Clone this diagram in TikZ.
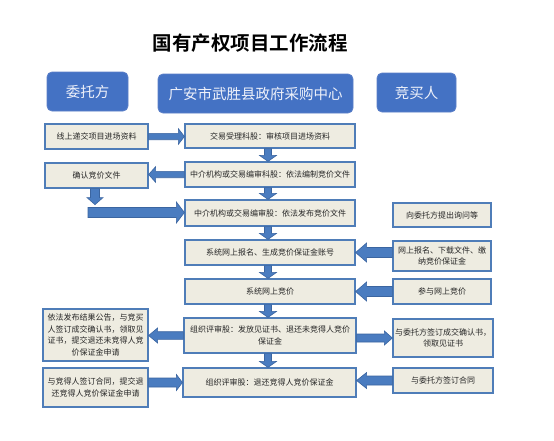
\documentclass[tikz,border=0pt]{standalone}
\usepackage{fontspec}
\usetikzlibrary{calc}
\newfontfamily\cjk{Noto Sans CJK SC}[BoldFont={Noto Sans CJK SC Bold}]
\definecolor{hdrfill}{HTML}{4472C4}
\definecolor{hdrdraw}{HTML}{5B7FC8}
\definecolor{hdrtext}{HTML}{EEF1FA}
\definecolor{boxfill}{HTML}{EEECE1}
\definecolor{boxdraw}{HTML}{4F7DB8}
\definecolor{arrfill}{HTML}{4A7CC0}
\definecolor{arrdraw}{HTML}{3B65A0}
\tikzset{
  hdr/.style={draw=hdrdraw, fill=hdrfill, rounded corners=5pt, line width=0.8pt,
    text=hdrtext, font=\cjk\fontsize{14.5}{16}\selectfont, inner sep=0pt, anchor=center},
  fbox/.style={draw=boxdraw, fill=boxfill, line width=1.2pt, text=black!85,
    font=\cjk\fontsize{8}{11.5}\selectfont, align=center, inner sep=0pt, anchor=center},
  barrow/.style={fill=arrfill, draw=arrdraw, line width=0.6pt, line join=miter}
}
% horizontal block arrow: start, end (same y), shaft half, head half, signed head length
\newcommand\harr[5]{\filldraw[barrow] ($(#1)+(0,{#3})$) -- ($(#2)+({-(#5)},{#3})$) -- ($(#2)+({-(#5)},{#4})$) -- (#2) -- ($(#2)+({-(#5)},{-(#4)})$) -- ($(#2)+({-(#5)},{-(#3)})$) -- ($(#1)+(0,{-(#3)})$) -- cycle;}
% vertical block arrow (downwards in picture)
\newcommand\varr[5]{\filldraw[barrow] ($(#1)+({#3},0)$) -- ($(#2)+({#3},{-(#5)})$) -- ($(#2)+({#4},{-(#5)})$) -- (#2) -- ($(#2)+({-(#4)},{-(#5)})$) -- ($(#2)+({-(#3)},{-(#5)})$) -- ($(#1)+({-(#3)},0)$) -- cycle;}
\begin{document}
\begin{tikzpicture}[x=1pt,y=-1pt]
\useasboundingbox[fill=white] (0,0) rectangle (554,440);
% title
\node[font=\cjk\bfseries\fontsize{19.5}{22}\selectfont, inner sep=0pt] (title) at (250,43) {国有产权项目工作流程};
% headers
\node[hdr, minimum width=81pt, minimum height=39pt] (h1) at (87.5,91.5) {委托方};
\node[hdr, minimum width=195pt, minimum height=39pt] (h2) at (255.5,93.5) {广安市武胜县政府采购中心};
\node[hdr, minimum width=79pt, minimum height=39pt] (h3) at (416.5,92.5) {竞买人};
% left column
\node[fbox, minimum width=103pt, minimum height=25pt] (l1) at (96.5,136.5) {线上递交项目进场资料};
\node[fbox, minimum width=103pt, minimum height=25pt] (l2) at (96.5,175.5) {确认竞价文件};
\node[fbox, minimum width=105pt, minimum height=52pt] (l3) at (95.5,335) {依法发布结果公告，与竞买\\人签订成交确认书，领取见\\证书，提交退还未竞得人竞\\价保证金申请};
\node[fbox, minimum width=105pt, minimum height=39pt] (l4) at (95.5,387.5) {与竞得人签订合同，提交退\\还竞得人竞价保证金申请};
% center column
\node[fbox, minimum width=170pt, minimum height=24pt] (c1) at (270,136) {交易受理科股：审核项目进场资料};
\node[fbox, minimum width=170pt, minimum height=25pt] (c2) at (270,174.5) {中介机构或交易编审科股：依法编制竞价文件};
\node[fbox, minimum width=170pt, minimum height=26pt] (c3) at (270,213) {中介机构或交易编审股：依法发布竞价文件};
\node[fbox, minimum width=170pt, minimum height=25pt] (c4) at (270,252.5) {系统网上报名、生成竞价保证金账号};
\node[fbox, minimum width=170pt, minimum height=25pt] (c5) at (270,291.5) {系统网上竞价};
\node[fbox, minimum width=172pt, minimum height=35pt] (c6) at (270,335.5) {组织评审股：发放见证书、退还未竞得人竞价\\保证金};
\node[fbox, minimum width=173pt, minimum height=29pt] (c7) at (269.5,382.5) {组织评审股：退还竞得人竞价保证金};
% right column
\node[fbox, minimum width=98pt, minimum height=24pt] (r1) at (442,215) {向委托方提出询问等};
\node[fbox, minimum width=98pt, minimum height=30pt] (r2) at (442,256) {网上报名、下载文件、缴\\纳竞价保证金};
\node[fbox, minimum width=98pt, minimum height=25pt] (r3) at (442,291.5) {参与网上竞价};
\node[fbox, minimum width=100pt, minimum height=38pt] (r4) at (443,338) {与委托方签订成交确认书，\\领取见证书};
\node[fbox, minimum width=100pt, minimum height=25pt] (r5) at (443,380.5) {与委托方签订合同};
% helper coordinates
\coordinate (a1e) at (c1.west |- l1.east);
\coordinate (a2e) at (l2.east |- c2.west);
\coordinate (ls) at ($(l2.south)+(-1.5,0)$);
\coordinate (le) at ($(l2.south)+(-1.5,16)$);
\coordinate (bs) at (88,212.5);
\coordinate (be) at (c3.west |- bs);
\coordinate (r2s) at (r2.west |- c4.east);
\coordinate (r3s) at (r3.west);
\coordinate (r3e) at (c5.east |- r3.west);
\coordinate (l3e) at (l3.east |- c6.west);
\coordinate (r4s) at (c6.east |- r4.west);
\coordinate (l4s) at (l4.east |- c7.west);
\coordinate (r5e) at (c7.east |- r5.west);
\foreach \i/\j in {1/2,2/3,3/4,4/5,5/6,6/7}{
  \coordinate (d\i s) at ($(c\i.south)+(-2,0)$);
  \coordinate (d\i e) at (d\i s |- c\j.north);
}
% arrows
\harr{l1.east}{a1e}{3.2}{7.8}{6}
\harr{c2.west}{a2e}{3.2}{7.8}{-7}
\varr{ls}{le}{4.5}{8}{7}
\harr{bs}{be}{5}{10.5}{8}
\foreach \i in {1,...,6}{\varr{d\i s}{d\i e}{3.5}{8.5}{6}}
\harr{r2s}{c4.east}{5}{9.5}{-11}
\harr{r3s}{r3e}{5}{9.5}{-11}
\harr{c6.west}{l3e}{3.8}{7.5}{-9}
\harr{r4s}{r4.west}{4}{7}{8}
\harr{l4s}{c7.west}{4.5}{8}{6}
\harr{r5.west}{r5e}{4.5}{8}{-10}
\end{tikzpicture}
\end{document}
